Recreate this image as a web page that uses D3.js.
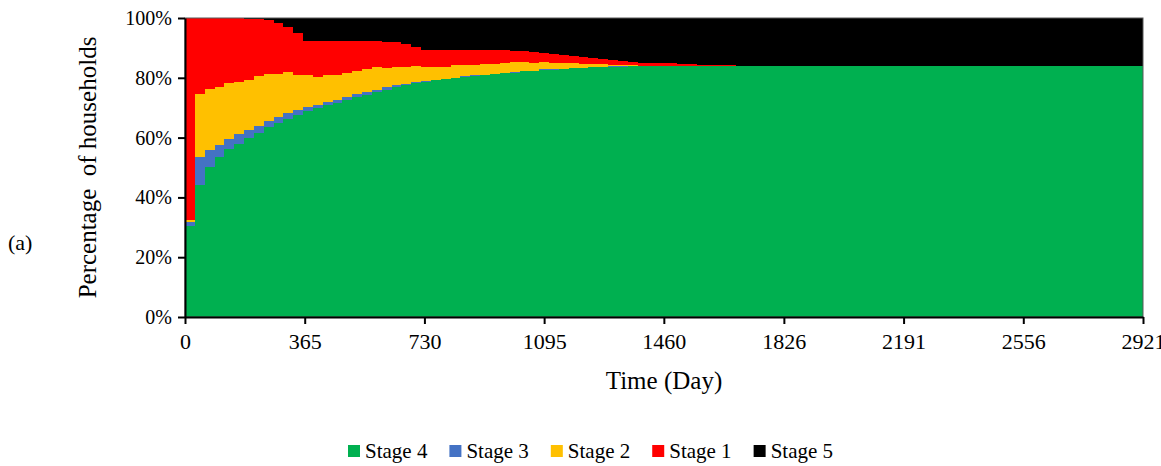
<!DOCTYPE html>
<html>
<head>
<meta charset="utf-8">
<script src="https://cdn.jsdelivr.net/npm/d3@7"></script>
<style>
  html, body { margin: 0; padding: 0; background: #fff; overflow: hidden; }
  svg { display: block; font-family: "Liberation Serif", "Times New Roman", serif; }
</style>
</head>
<body>
<svg id="chart" width="1161" height="466"></svg>
<script>
const STAGES = ['Stage 4', 'Stage 3', 'Stage 2', 'Stage 1', 'Stage 5'];
const COLORS = ['#00B050', '#4472C4', '#FFC000', '#FF0000', '#000000'];

// monthly records (day), held until the end of the run
const DAYS = [0, 30, 60, 90, 120, 150, 180, 210, 240, 270, 300, 330, 360, 390, 420, 450, 480, 510, 540, 570,
  600, 630, 660, 690, 720, 750, 780, 810, 840, 870, 900, 930, 960, 990, 1020, 1050, 1080, 1110, 1140, 1170,
  1200, 1230, 1260, 1290, 1320, 1350, 1380, 1410, 1440, 1470, 1500, 1530, 1560, 1590, 1620, 1650, 1680, 1710];

const STAGE4 = [30.5, 44.1, 50.1, 53.6, 56.2, 57.9, 60.0, 61.5, 63.4, 64.9,
  66.2, 67.7, 68.9, 69.9, 70.8, 71.7, 72.6, 73.5, 74.1, 75.1,
  76.0, 77.0, 77.7, 78.3, 78.7, 79.2, 79.5, 79.8, 80.3, 80.5,
  80.9, 81.2, 81.5, 81.7, 82.2, 82.2, 82.6, 82.6, 82.9, 83.2,
  83.3, 83.5, 83.5, 83.7, 83.7, 83.8, 84.0, 84.0, 84.0, 84.0,
  84.0, 84.0, 84.0, 84.0, 84.0, 84.0, 84.0, 84.0];
const STAGE3 = [1.4, 9.3, 5.8, 3.9, 3.3, 3.3, 2.5, 2.4, 2.2, 1.9,
  2.1, 1.5, 1.2, 1.0, 1.1, 0.9, 0.9, 1.0, 1.0, 0.8,
  0.9, 0.7, 0.3, 0.3, 0.2, 0.2, 0.2, 0.2, 0.3, 0.3,
  0.2, 0.2, 0.2, 0.2, 0.2, 0.2, 0.2, 0.2, 0.2, 0.2,
  0.1, 0.1, 0.1, 0.1, 0.1, 0.1, 0.05, 0.05, 0.05, 0.05,
  0, 0, 0, 0, 0, 0, 0, 0];
const STAGE2 = [0.5, 21.2, 20.4, 19.5, 18.8, 17.4, 16.8, 16.6, 15.7, 14.5,
  13.5, 11.7, 10.8, 9.5, 9.0, 8.4, 8.0, 7.8, 7.8, 7.7,
  6.5, 5.8, 5.7, 5.5, 4.6, 4.3, 3.8, 4.2, 3.6, 3.6,
  3.5, 3.2, 3.2, 3.4, 2.9, 2.5, 2.5, 2.1, 2.0, 1.7,
  1.2, 0.9, 0.9, 0.5, 0.5, 0.4, 0.05, 0.05, 0.05, 0.05,
  0.1, 0.1, 0.1, 0.1, 0.1, 0.1, 0, 0];
const STAGE1 = [67.6, 25.4, 23.7, 23.0, 21.7, 21.3, 20.4, 19.1, 18.0, 16.9,
  15.2, 14.1, 11.4, 11.9, 11.4, 11.3, 10.8, 10.0, 9.4, 8.7,
  8.7, 8.5, 7.6, 6.2, 5.9, 5.7, 5.9, 5.2, 5.2, 5.0,
  4.8, 4.8, 4.5, 3.8, 3.8, 3.8, 3.0, 3.1, 2.6, 2.2,
  2.4, 2.1, 1.8, 1.7, 1.3, 1.0, 1.0, 1.0, 0.7, 0.7,
  0.5, 0.5, 0.2, 0.2, 0.2, 0.2, 0.1, 0];
const STAGE5 = [0, 0, 0, 0, 0, 0.1, 0.3, 0.4, 0.7, 1.8,
  3.0, 5.0, 7.7, 7.7, 7.7, 7.7, 7.7, 7.7, 7.7, 7.7,
  7.9, 8.0, 8.7, 9.7, 10.6, 10.6, 10.6, 10.6, 10.6, 10.6,
  10.6, 10.6, 10.6, 10.9, 10.9, 11.3, 11.7, 12.0, 12.3, 12.7,
  13.0, 13.4, 13.7, 14.0, 14.4, 14.7, 14.9, 14.9, 15.2, 15.2,
  15.4, 15.4, 15.7, 15.7, 15.7, 15.7, 15.9, 16.0];

const X_TICKS = [0, 365, 730, 1095, 1460, 1826, 2191, 2556, 2921];
const Y_TICKS = [0, 20, 40, 60, 80, 100];
const X_MAX = 2921;

const svg = d3.select('#chart');
const margin = { left: 185, right: 18, top: 18, bottom: 149 };
const W = 1161, H = 466;
const iw = W - margin.left - margin.right;
const ih = H - margin.top - margin.bottom;

const x = d3.scaleLinear().domain([0, X_MAX]).range([margin.left, margin.left + iw]);
const y = d3.scaleLinear().domain([0, 100]).range([margin.top + ih, margin.top]);

const series = [STAGE4, STAGE3, STAGE2, STAGE1, STAGE5];
const rows = DAYS.map((day, i) => {
  const r = { day };
  STAGES.forEach((s, k) => { r[s] = series[k][i]; });
  return r;
});
// last record is held to the end of the time axis
rows.push(Object.assign({}, rows[rows.length - 1], { day: X_MAX }));

const stacked = d3.stack().keys(STAGES)(rows);

const area = d3.area()
  .curve(d3.curveStepAfter)
  .x(d => x(d.data.day))
  .y0(d => y(d[0]))
  .y1(d => y(d[1]));

svg.append('g')
  .selectAll('path')
  .data(stacked)
  .join('path')
  .attr('d', area)
  .attr('fill', (d, i) => COLORS[i])
  .attr('shape-rendering', 'crispEdges');

// plot border
svg.append('rect')
  .attr('x', margin.left).attr('y', margin.top)
  .attr('width', iw).attr('height', ih)
  .attr('fill', 'none')
  .attr('stroke', '#595959')
  .attr('stroke-width', 1);

const yAxis = svg.append('g')
  .attr('transform', `translate(${margin.left},0)`)
  .call(d3.axisLeft(y).tickValues(Y_TICKS).tickFormat(d => d + '%').tickSize(7).tickSizeOuter(0).tickPadding(6));

const xAxis = svg.append('g')
  .attr('transform', `translate(0,${margin.top + ih})`)
  .call(d3.axisBottom(x).tickValues(X_TICKS).tickFormat(d => d).tickSize(7).tickSizeOuter(0).tickPadding(9));

[yAxis, xAxis].forEach(g => {
  g.selectAll('.domain').attr('stroke', '#000').attr('stroke-width', 2);
  g.selectAll('.tick line').attr('stroke', '#000').attr('stroke-width', 2);
  g.selectAll('.tick text')
    .attr('fill', '#000')
    .style('font-family', '"Liberation Serif", "Times New Roman", serif')
    .style('font-size', '20px');
});
xAxis.selectAll('.tick text').style('font-size', '22px');

svg.append('text')
  .attr('transform', `translate(96,${margin.top + ih / 2}) rotate(-90)`)
  .attr('text-anchor', 'middle')
  .style('font-size', '25px')
  .style('white-space', 'pre')
  .text('Percentage  of households');

svg.append('text')
  .attr('x', margin.left + iw / 2)
  .attr('y', 389)
  .attr('text-anchor', 'middle')
  .style('font-size', '25px')
  .text('Time (Day)');

svg.append('text')
  .attr('x', 8)
  .attr('y', 250)
  .style('font-size', '22px')
  .text('(a)');

// legend
const legend = svg.append('g').attr('transform', 'translate(0,451)');
let lx = 348;
STAGES.forEach((s, i) => {
  const g = legend.append('g').attr('transform', `translate(${lx},0)`);
  g.append('rect').attr('x', 0).attr('y', -6).attr('width', 12).attr('height', 12).attr('fill', COLORS[i]);
  const t = g.append('text').attr('x', 17).attr('y', 7).style('font-size', '21px').text(s);
  lx += 17 + t.node().getComputedTextLength() + 22;
});
</script>
</body>
</html>
